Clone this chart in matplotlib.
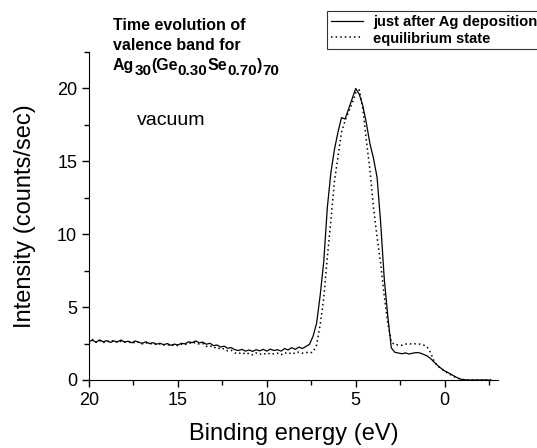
import numpy as np
import matplotlib
matplotlib.use("Agg")
from matplotlib import pyplot as plt
from matplotlib.ticker import MultipleLocator

plt.rcParams['font.family'] = ['Liberation Sans', 'DejaVu Sans']

# binding energy grid (eV), 0.2 eV steps, 20 -> -2.6
energy = np.round(np.arange(20.0, -2.61, -0.2), 1)

# just after Ag deposition (solid)
after_dep = [
    2.65, 2.72, 2.60, 2.75, 2.62, 2.70, 2.58, 2.68, 2.62, 2.74,   # 20.0 - 18.2
    2.60, 2.66, 2.55, 2.68, 2.58, 2.52, 2.62, 2.50, 2.56, 2.46,   # 18.0 - 16.2
    2.52, 2.42, 2.50, 2.38, 2.46, 2.40, 2.52, 2.48, 2.62, 2.56,   # 16.0 - 14.2
    2.68, 2.55, 2.60, 2.45, 2.52, 2.36, 2.40, 2.26, 2.32, 2.18,   # 14.0 - 12.2
    2.22, 2.08, 2.02, 2.10, 1.98, 2.06, 1.96, 2.08, 2.00, 2.10,   # 12.0 - 10.2
    1.98, 2.12, 2.02, 2.08, 1.98, 2.16, 2.06, 2.22, 2.10, 2.26,   # 10.0 - 8.2
    2.16, 2.30, 2.45, 3.00, 3.90, 5.80, 8.10, 11.8, 14.2, 15.8,   # 8.0 - 6.2
    17.0, 18.0, 17.9, 18.6, 19.3, 20.0, 19.6, 18.8, 17.6, 16.2,   # 6.0 - 4.2
    15.2, 13.9, 10.8, 7.00, 4.40, 2.20, 1.90, 1.85, 1.80, 1.86,   # 4.0 - 2.2
    1.78, 1.84, 1.88, 1.86, 1.76, 1.66, 1.48, 1.24, 1.00, 0.80,   # 2.0 - 0.2
    0.62, 0.50, 0.36, 0.22, 0.10, 0.03, 0.01, 0.00, 0.00, 0.00,   # 0.0 - -1.8
    0.00, 0.00, 0.00, 0.00,                                       # -2.0 - -2.6
]

# equilibrium state (dotted)
equilibrium = [
    2.50, 2.78, 2.58, 2.70, 2.55, 2.68, 2.62, 2.72, 2.56, 2.66,
    2.62, 2.58, 2.64, 2.52, 2.60, 2.48, 2.56, 2.46, 2.52, 2.42,
    2.48, 2.40, 2.44, 2.34, 2.42, 2.36, 2.46, 2.42, 2.56, 2.50,
    2.58, 2.46, 2.50, 2.30, 2.36, 2.20, 2.26, 2.10, 2.16, 2.00,
    2.04, 1.86, 1.80, 1.90, 1.76, 1.84, 1.72, 1.86, 1.76, 1.84,
    1.74, 1.86, 1.78, 1.84, 1.72, 1.88, 1.78, 1.90, 1.80, 1.92,
    1.84, 1.90, 1.84, 1.92, 2.40, 3.80, 5.60, 8.40, 10.9, 13.6,
    15.3, 17.0, 17.8, 18.4, 19.0, 19.7, 19.9, 18.6, 16.4, 14.4,
    11.8, 9.80, 8.00, 5.80, 3.90, 2.60, 2.40, 2.42, 2.38, 2.46,
    2.50, 2.44, 2.50, 2.46, 2.40, 2.30, 1.90, 1.30, 0.96, 0.78,
    0.60, 0.46, 0.32, 0.20, 0.10, 0.04, 0.01, 0.00, 0.00, 0.00,
    0.00, 0.00, 0.00, 0.00,
]

# formula pieces: (text, is_subscript)
formula = [('Ag', False), ('30', True), ('(Ge', False), ('0.30', True),
           ('Se', False), ('0.70', True), (')', False), ('70', True)]

fig = plt.figure(figsize=(5.37, 4.48), dpi=100)
ax = fig.add_axes([0.1657, 0.1518, 0.7617, 0.7321])

l1, = ax.plot(energy, after_dep, color='black', lw=0.9)
l2, = ax.plot(energy, equilibrium, color='black', lw=1.1, linestyle=(0, (1, 2)))

ax.set_xlim(20, -3)
ax.set_ylim(0, 22.5)
ax.xaxis.set_major_locator(MultipleLocator(5))
ax.xaxis.set_minor_locator(MultipleLocator(2.5))
ax.yaxis.set_major_locator(MultipleLocator(5))
ax.yaxis.set_minor_locator(MultipleLocator(2.5))
ax.spines['top'].set_visible(False)
ax.spines['right'].set_visible(False)
ax.tick_params(which='major', direction='out', length=5, width=1, labelsize=13)
ax.tick_params(which='minor', direction='out', length=3.5, width=1)

ax.set_xlabel('Binding energy (eV)', fontsize=17, labelpad=10)
ax.set_ylabel('Intensity (counts/sec)', fontsize=17, labelpad=15)

# title block
fig.text(113/537, 1 - 30/448, 'Time evolution of', fontsize=11.5, fontweight='bold', va='baseline')
fig.text(113/537, 1 - 50/448, 'valence band for', fontsize=11.5, fontweight='bold', va='baseline')

renderer = fig.canvas.get_renderer()
xpos = 113.0
for piece, sub in formula:
    size = 11 if sub else 11.5
    dy = -5 if sub else 0
    t = fig.text(xpos / 537, (448 - 70 + dy) / 448, piece, fontsize=size,
                 fontweight='bold', va='baseline')
    xpos += t.get_window_extent(renderer).width

fig.text(137/537, 1 - 125/448, 'vacuum', fontsize=14, va='baseline')

leg = fig.legend([l1, l2], ['just after Ag deposition', 'equilibrium state'],
                 loc='upper left', bbox_to_anchor=(327/537, 1 - 11/448),
                 prop={'weight': 'bold', 'size': 10.6}, frameon=True, fancybox=False,
                 handlelength=2.2, handletextpad=0.7, borderpad=0.25, labelspacing=0.2,
                 borderaxespad=0)
leg.get_frame().set_edgecolor('black')
leg.get_frame().set_linewidth(0.8)

fig.savefig('out.png', dpi=100)
